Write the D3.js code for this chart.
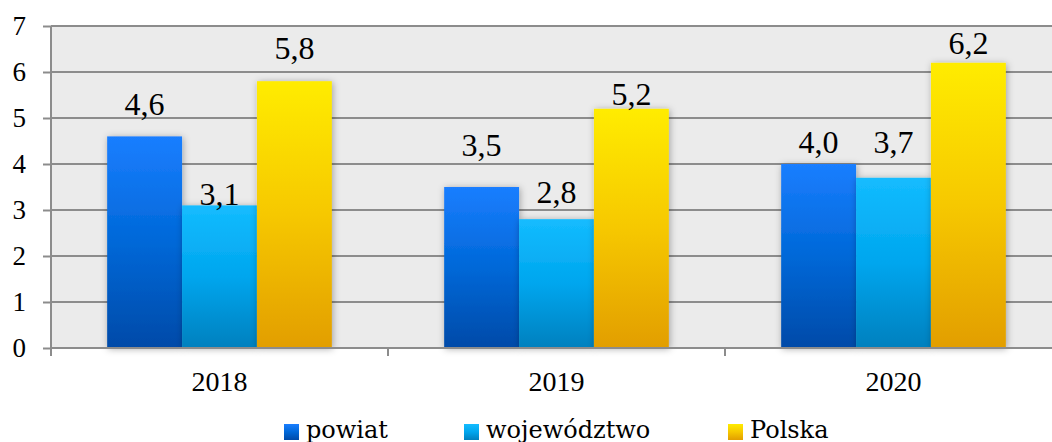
<!DOCTYPE html>
<html><head><meta charset="utf-8">
<script src="https://cdn.jsdelivr.net/npm/d3@7"></script>
<style>body{margin:0;background:#fff}svg{display:block}</style>
</head><body>
<svg id="c" width="1052" height="442"></svg>
<script>
const categories = ["2018", "2019", "2020"];
const seriesNames = ["powiat", "województwo", "Polska"];
const powiat = [4.6, 3.5, 4.0];
const wojewodztwo = [3.1, 2.8, 3.7];
const polska = [5.8, 5.2, 6.2];
const yTicks = [0, 1, 2, 3, 4, 5, 6, 7];

// layout / style (not data)
const labelGap = { "powiat": [21, 31, 11], "województwo": [0, 16, 25], "Polska": [22, 4, 9] };
const grads = {
  "powiat": ["#1a7eff", "#0068d8", "#004aa8"],
  "województwo": ["#14bcff", "#00a6ee", "#0080be"],
  "Polska": ["#ffec00", "#f6c800", "#e29e00"]
};
const font = "'Liberation Serif', 'Times New Roman', serif";
const legFont = "'DejaVu Serif', serif";

const values = { "powiat": powiat, "województwo": wojewodztwo, "Polska": polska };
const svg = d3.select("#c");
const L = 51, R = 1062, T = 26, B = 348;

const x = d3.scaleBand().domain(categories).range([L, R]).padding(0);
const xs = d3.scaleBand().domain(seriesNames).range([0, x.bandwidth()]).paddingInner(0).paddingOuter(0.75);
const y = d3.scaleLinear().domain([0, 7]).range([B, T]);

const defs = svg.append("defs");
seriesNames.forEach((s, i) => {
  const g = defs.append("linearGradient").attr("id", "g" + i).attr("x1", 0).attr("y1", 0).attr("x2", 0).attr("y2", 1);
  g.append("stop").attr("offset", "0%").attr("stop-color", grads[s][0]);
  g.append("stop").attr("offset", "50%").attr("stop-color", grads[s][1]);
  g.append("stop").attr("offset", "100%").attr("stop-color", grads[s][2]);
});
const f = defs.append("filter").attr("id", "sh").attr("x", "-20%").attr("y", "-10%").attr("width", "140%").attr("height", "120%");
f.append("feDropShadow").attr("dx", 1).attr("dy", 1).attr("stdDeviation", 3.5).attr("flood-color", "#000").attr("flood-opacity", 0.32);

// plot background
svg.append("rect").attr("x", L).attr("y", T).attr("width", R - L).attr("height", B - T).attr("fill", "#ebebeb");

// gridlines
svg.append("g").selectAll("line").data(yTicks.filter(d => d > 0)).join("line")
  .attr("x1", L).attr("x2", R).attr("y1", d => y(d)).attr("y2", d => y(d))
  .attr("stroke", "#8c8c8c").attr("stroke-width", 2);

// bars
const bars = svg.append("g");
seriesNames.forEach((s, i) => {
  bars.append("g").selectAll("rect").data(categories.map((c, j) => ({ c, v: values[s][j] }))).join("rect")
    .attr("x", d => x(d.c) + xs(s)).attr("width", xs.bandwidth())
    .attr("y", d => y(d.v)).attr("height", d => B - y(d.v))
    .attr("fill", `url(#g${i})`).attr("filter", "url(#sh)");
});

// y axis
const ya = svg.append("g").attr("transform", `translate(${L},0)`)
  .call(d3.axisLeft(y).tickValues(yTicks).tickSize(8).tickPadding(17).tickFormat(d3.format("d")));
ya.select(".domain").remove();
ya.append("line").attr("x1", 0).attr("x2", 0).attr("y1", T).attr("y2", B + 8).attr("stroke", "#8c8c8c").attr("stroke-width", 2);
ya.selectAll(".tick line").attr("stroke", "#8c8c8c").attr("stroke-width", 2);
ya.selectAll(".tick text").attr("font-family", font).attr("font-size", 27).attr("fill", "#000");

// x axis
const xa = svg.append("g").attr("transform", `translate(0,${B})`);
xa.append("line").attr("x1", L).attr("x2", R).attr("y1", 0).attr("y2", 0).attr("stroke", "#8c8c8c").attr("stroke-width", 2);
xa.selectAll("line.tk").data(categories.slice(1)).join("line").attr("class", "tk")
  .attr("x1", d => x(d)).attr("x2", d => x(d)).attr("y1", 0).attr("y2", 8)
  .attr("stroke", "#8c8c8c").attr("stroke-width", 2);
xa.selectAll("text").data(categories).join("text")
  .attr("x", d => x(d) + x.bandwidth() / 2).attr("y", 43)
  .attr("text-anchor", "middle").attr("font-family", font).attr("font-size", 28).attr("fill", "#000")
  .text(d => d);

// value labels
const fmt = v => d3.format(".1f")(v).replace(".", ",");
seriesNames.forEach((s, i) => {
  svg.append("g").selectAll("text").data(categories.map((c, j) => ({ c, j, v: values[s][j] }))).join("text")
    .attr("x", d => x(d.c) + xs(s) + xs.bandwidth() / 2)
    .attr("y", d => y(d.v) - labelGap[s][d.j])
    .attr("text-anchor", "middle").attr("font-family", font).attr("font-size", 32).attr("fill", "#000")
    .text(d => fmt(d.v));
});

// legend
const legX = [284, 464, 728];
const lg = svg.append("g");
seriesNames.forEach((s, i) => {
  lg.append("rect").attr("x", legX[i]).attr("y", 424).attr("width", 15).attr("height", 16).attr("fill", `url(#g${i})`);
  lg.append("text").attr("x", legX[i] + 22).attr("y", 438).attr("font-family", legFont).attr("font-size", 24).attr("fill", "#000").text(s);
});
</script>
</body></html>
